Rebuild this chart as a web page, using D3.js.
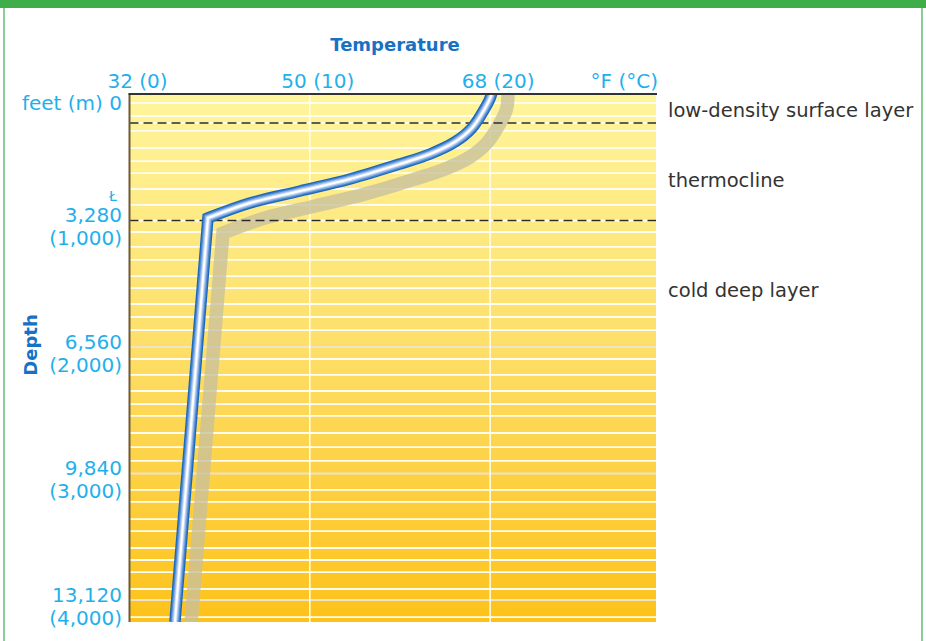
<!DOCTYPE html>
<html><head><meta charset="utf-8">
<script src="https://cdn.jsdelivr.net/npm/d3@7/dist/d3.min.js"></script>
<style>body{margin:0;background:#fff;overflow:hidden}</style>
</head><body><svg id="c" width="926" height="641"></svg>
<script>
// ---- data ----
const tempTicksC = [0, 10, 20];
const tempTicksF = [32, 50, 68];
const depthTicksM = [1000, 2000, 3000, 4000];
const depthLabelsFt = ["3,280", "6,560", "9,840", "13,120"];
const depthLabelsM = ["(1,000)", "(2,000)", "(3,000)", "(4,000)"];
// temperature profile (°C vs depth m)
const profileDepth = [-200, 0, 126, 269, 379, 474, 553, 672, 767, 862, 980];
const profileTemp  = [20.16, 20.08, 19.66, 18.99, 18.05, 16.67, 15.0, 12.23, 9.46, 6.68, 4.35];
const deepDepth = [980, 4174];
const deepTemp  = [4.35, 2.52];
// background stripe lines (depth m)
const stripeDepths = [71,174,229,292,427,530,625,751,877,1000,1091,1209,1312,1439,1534,1660,1763,1866,
  2095,2221,2348,2451,2545,2680,2791,2901,3130,3225,3360,3455,3589,3684,3779,3913,4135];
const layerBounds = [229, 1000];
const layerNames = ["low-density surface layer", "thermocline", "cold deep layer"];
const layerLabelDepth = [174, 727, 1597];

// ---- layout ----
const svg = d3.select("#c");
const x = d3.scaleLinear().domain([0, 29.2]).range([129.5, 656]);
const y = d3.scaleLinear().domain([0, 4174]).range([94, 622]);
const font = "'DejaVu Sans', Verdana, sans-serif";
const tickColor = "#1fb0ec", titleColor = "#1872c4";
const tickSize = 20;

// frame
svg.append("rect").attr("x",0).attr("y",0).attr("width",926).attr("height",8).attr("fill","#3dae4a");
svg.append("rect").attr("x",3).attr("y",8).attr("width",2).attr("height",633).attr("fill","#8ccf94");
svg.append("rect").attr("x",921).attr("y",8).attr("width",2).attr("height",633).attr("fill","#8ccf94");

// gradient
const defs = svg.append("defs");
const g = defs.append("linearGradient").attr("id","bg").attr("x1",0).attr("y1",0).attr("x2",0).attr("y2",1);
g.append("stop").attr("offset","0%").attr("stop-color","#fff59c");
g.append("stop").attr("offset","45%").attr("stop-color","#fde06c");
g.append("stop").attr("offset","100%").attr("stop-color","#fdc21a");
defs.append("clipPath").attr("id","plotclip").append("rect")
  .attr("x",x.range()[0]).attr("y",y.range()[0])
  .attr("width",x.range()[1]-x.range()[0]).attr("height",y.range()[1]-y.range()[0]);

const [x0,x1] = x.range(), [y0,y1] = y.range();
svg.append("rect").attr("x",x0).attr("y",y0).attr("width",x1-x0).attr("height",y1-y0).attr("fill","url(#bg)");

// stripes
svg.append("g").selectAll("line").data(stripeDepths).join("line")
  .attr("x1",x0).attr("x2",x1).attr("y1",d=>y(d)).attr("y2",d=>y(d))
  .attr("stroke","#fffdf2").attr("stroke-width",1.8);
svg.append("g").selectAll("line").data(depthTicksM.slice(1)).join("line")
  .attr("x1",x0).attr("x2",x1).attr("y1",d=>y(d)).attr("y2",d=>y(d))
  .attr("stroke","#ece4cc").attr("stroke-width",2);
// vertical grid
svg.append("g").selectAll("line").data(tempTicksC.slice(1)).join("line")
  .attr("x1",d=>x(d)).attr("x2",d=>x(d)).attr("y1",y0).attr("y2",y1)
  .attr("stroke","#fffdf2").attr("stroke-width",1.5);

// profile path
const upper = d3.line().x(d=>x(d[0])).y(d=>y(d[1])).curve(d3.curveCatmullRom.alpha(0.5))(profileTemp.map((t,i)=>[t,profileDepth[i]]));
const lower = d3.line().x(d=>x(d[0])).y(d=>y(d[1]))(deepTemp.map((t,i)=>[t,deepDepth[i]]));
const pathD = upper + lower.replace(/^M/, "L");

const clipG = svg.append("g").attr("clip-path","url(#plotclip)");
clipG.append("path").attr("d",pathD).attr("transform","translate(15,15)")
  .attr("fill","none").attr("stroke","rgba(200,192,158,0.78)").attr("stroke-width",13.5)
  .attr("stroke-linejoin","miter");
// dashed boundaries (over shadow, under tube)
clipG.append("g").selectAll("line").data(layerBounds).join("line")
  .attr("x1",x0).attr("x2",x1+1).attr("y1",d=>y(d)).attr("y2",d=>y(d))
  .attr("stroke","#2a2a2a").attr("stroke-width",1.6).attr("stroke-dasharray","9,5");
[[11.5,"#1a68ba"],[9,"#4a86d2"],[6.5,"#8fb3e6"],[4,"#c9dbf5"],[2,"#ffffff"]].forEach(([w,c])=>{
  clipG.append("path").attr("d",pathD).attr("fill","none").attr("stroke",c)
    .attr("stroke-width",w).attr("stroke-linejoin","miter");
});

// borders
svg.append("line").attr("x1",x0).attr("x2",x0).attr("y1",y0).attr("y2",y1).attr("stroke","#6e5a35").attr("stroke-width",2);
svg.append("line").attr("x1",x0-1).attr("x2",x1+1).attr("y1",y0).attr("y2",y0).attr("stroke","#333").attr("stroke-width",2);

// top axis labels
svg.append("g").selectAll("text").data(tempTicksC).join("text")
  .attr("x",d=>x(d)+8).attr("y",88).attr("text-anchor","middle")
  .attr("font-family",font).attr("font-size",tickSize).attr("fill",tickColor)
  .text((d,i)=>`${tempTicksF[i]} (${d})`);
svg.append("text").attr("x",658).attr("y",88).attr("text-anchor","end")
  .attr("font-family",font).attr("font-size",tickSize).attr("fill",tickColor).text("°F (°C)");
svg.append("text").attr("x",395).attr("y",51).attr("text-anchor","middle")
  .attr("font-family",font).attr("font-size",18).attr("font-weight","bold").attr("fill",titleColor).text("Temperature");

// left axis labels
svg.append("text").attr("x",122).attr("y",y(0)+16).attr("text-anchor","end")
  .attr("font-family",font).attr("font-size",tickSize).attr("fill",tickColor).text("feet (m) 0");
const lg = svg.append("g").selectAll("g").data(depthTicksM).join("g");
lg.append("text").attr("x",122).attr("y",d=>y(d)+2).attr("text-anchor","end")
  .attr("font-family",font).attr("font-size",tickSize).attr("fill",tickColor).text((d,i)=>depthLabelsFt[i]);
lg.append("text").attr("x",122).attr("y",d=>y(d)+25).attr("text-anchor","end")
  .attr("font-family",font).attr("font-size",tickSize).attr("fill",tickColor).text((d,i)=>depthLabelsM[i]);
svg.append("text").attr("x",113).attr("y",y(1000)-19).attr("text-anchor","middle")
  .attr("font-family",font).attr("font-size",14).attr("fill",tickColor).text("Ł");
svg.append("text").attr("transform",`translate(37,${345}) rotate(-90)`).attr("text-anchor","middle")
  .attr("font-family",font).attr("font-size",18).attr("font-weight","bold").attr("fill",titleColor).text("Depth");

// layer labels
svg.append("g").selectAll("text").data(layerNames).join("text")
  .attr("x",668).attr("y",(d,i)=>y(layerLabelDepth[i])+1).attr("font-family",font)
  .attr("font-size",19.5).attr("fill","#333").text(d=>d);
</script></body></html>
